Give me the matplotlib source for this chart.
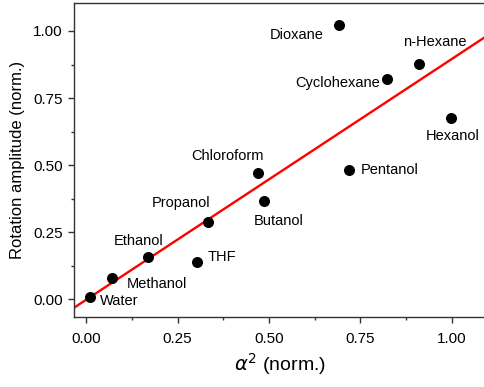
import numpy as np
import matplotlib.pyplot as plt

plt.rcParams['font.family'] = ['Liberation Sans', 'DejaVu Sans']

solvents = ["Water", "Methanol", "Ethanol", "THF", "Propanol", "Chloroform",
            "Butanol", "Pentanol", "Dioxane", "Cyclohexane", "n-Hexane", "Hexanol"]
alpha2 = [0.011, 0.070, 0.168, 0.303, 0.333, 0.471, 0.486, 0.718, 0.692, 0.822, 0.909, 0.997]
amplitude = [0.010, 0.081, 0.156, 0.139, 0.288, 0.469, 0.368, 0.482, 1.021, 0.820, 0.876, 0.675]

# linear fit
fit_slope = 0.898
fit_intercept = -0.002

# label offsets in pixels (dx, dy, ha)
offs = {
    "Water": (10, -4, "left"),
    "Methanol": (15, -6, "left"),
    "Ethanol": (-9, 16, "center"),
    "THF": (11, 5, "left"),
    "Propanol": (-27, 19, "center"),
    "Chloroform": (-31, 17, "center"),
    "Butanol": (15, -20, "center"),
    "Pentanol": (12, 0, "left"),
    "Dioxane": (-16, -10, "right"),
    "Cyclohexane": (-7, -4, "right"),
    "n-Hexane": (16, 22, "center"),
    "Hexanol": (2, -18, "center"),
}

fig = plt.figure(figsize=(4.84, 3.87), dpi=100)
ax = fig.add_axes([0.153, 0.181, 0.851, 0.811])

xl = (-0.033, 1.093)
yl = (-0.066, 1.104)
xf = np.array(xl)
ax.plot(xf, fit_slope * xf + fit_intercept, color='#ff0000', lw=1.7, zorder=2)
ax.scatter(alpha2, amplitude, s=48, color='black', zorder=3)

for name, x, y in zip(solvents, alpha2, amplitude):
    dx, dy, ha = offs[name]
    ax.annotate(name, (x, y), xytext=(dx, dy), textcoords='offset pixels',
                ha=ha, va='center', fontsize=10.5)

ax.set_xlim(xl)
ax.set_ylim(yl)
ax.set_xticks([0, 0.25, 0.5, 0.75, 1.0])
ax.set_yticks([0, 0.25, 0.5, 0.75, 1.0])
ax.set_xticks([0.125, 0.375, 0.625, 0.875], minor=True)
ax.set_yticks([0.125, 0.375, 0.625, 0.875], minor=True)
ax.xaxis.set_major_formatter(plt.FormatStrFormatter('%.2f'))
ax.yaxis.set_major_formatter(plt.FormatStrFormatter('%.2f'))
ax.tick_params(which='major', direction='out', length=4.5, width=1, labelsize=11, color='#333333')
ax.tick_params(axis='x', which='major', pad=6)
ax.tick_params(which='minor', direction='out', length=2.5, width=1, color='#333333')
ax.tick_params(top=False, right=False)
for s in ax.spines.values():
    s.set_color('#333333')
    s.set_linewidth(1)
ax.spines['right'].set_visible(False)

ax.set_ylabel("Rotation amplitude (norm.)", fontsize=12, labelpad=6)
ax.set_xlabel(r"$\alpha^2$ (norm.)", fontsize=14, labelpad=4)

fig.savefig("out.png", dpi=100)
